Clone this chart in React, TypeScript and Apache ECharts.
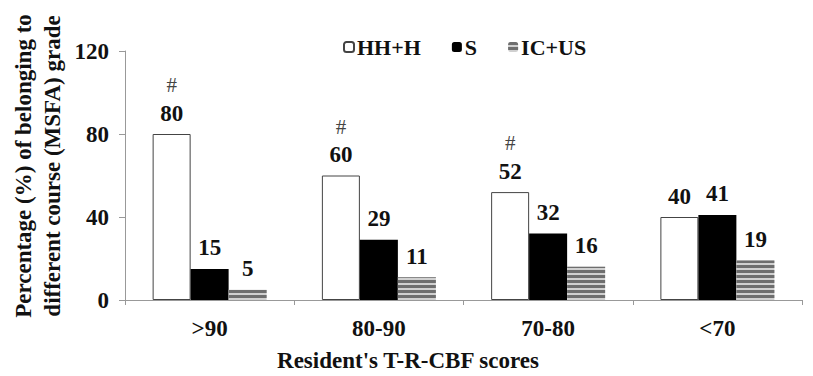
import React, { useEffect, useRef } from "react";
import * as echarts from "echarts";

const categories = [">90", "80-90", "70-80", "<70"];
const seriesNames = ["HH+H", "S", "IC+US"];
const hhH = [80, 60, 52, 40];
const sVals = [15, 29, 32, 41];
const icUs = [5, 11, 16, 19];
const significance = ["#", "#", "#", ""];
const yTicks = { min: 0, max: 120, interval: 40 };
const yTitle = "Percentage (%) of belonging to\ndifferent course (MSFA) grade";
const xTitle = "Resident's T-R-CBF scores";

const FONT = "'Liberation Serif', 'Times New Roman', serif";
const FS = 23;

export default function App() {
  const ref = useRef<HTMLDivElement>(null);
  useEffect(() => {
    if (!ref.current) return;
    const chart = echarts.init(ref.current, undefined, { renderer: "svg" });
    const valueLabel = {
      show: true,
      position: "top",
      distance: 9,
      fontFamily: FONT,
      fontWeight: "bold",
      fontSize: FS,
      lineHeight: 24,
      color: "#111",
    };
    chart.setOption({
      animation: false,
      backgroundColor: "#fff",
      textStyle: { fontFamily: FONT },
      legend: {
        left: 338,
        top: 31,
        itemWidth: 10,
        itemHeight: 10,
        itemGap: 31,
        textStyle: {
          fontFamily: FONT,
          fontWeight: "bold",
          fontSize: 22,
          color: "#111",
          padding: [0, 0, 0, -2],
        },
        data: seriesNames,
      },
      grid: { left: 125, right: 11, top: 51, bottom: 76, containLabel: false },
      xAxis: {
        type: "category",
        data: categories,
        axisLine: { lineStyle: { color: "#999", width: 1 } },
        axisTick: { show: true, length: 5, lineStyle: { color: "#999" } },
        axisLabel: { margin: 17, fontFamily: FONT, fontWeight: "bold", fontSize: FS, color: "#111" },
      },
      yAxis: {
        type: "value",
        min: yTicks.min,
        max: yTicks.max,
        interval: yTicks.interval,
        axisLine: { show: true, lineStyle: { color: "#999", width: 1 } },
        axisTick: { show: true, length: 6, lineStyle: { color: "#999" } },
        splitLine: { show: false },
        axisLabel: { margin: 16, fontFamily: FONT, fontWeight: "bold", fontSize: FS, color: "#111" },
      },
      graphic: [
        {
          type: "text",
          x: 408,
          y: 360,
          style: {
            text: xTitle,
            textAlign: "center",
            textVerticalAlign: "middle",
            fontFamily: FONT,
            fontWeight: "bold",
            fontSize: FS,
            fill: "#111",
          },
        },
        {
          type: "text",
          x: 38,
          y: 166,
          rotation: Math.PI / 2,
          style: {
            text: yTitle,
            textAlign: "center",
            textVerticalAlign: "middle",
            fontFamily: FONT,
            fontWeight: "bold",
            fontSize: FS,
            lineHeight: 29,
            fill: "#111",
          },
        },
      ],
      series: [
        {
          name: seriesNames[0],
          type: "bar",
          barWidth: 38,
          barGap: "0%",
          data: hhH,
          itemStyle: { color: "#fff", borderColor: "#444", borderWidth: 1 },
          label: {
            ...valueLabel,
            formatter: (p: any) => {
              const m = significance[p.dataIndex];
              return m ? `{h|${m}}\n{v|${p.value}}` : `{v|${p.value}}`;
            },
            rich: {
              h: { fontFamily: FONT, fontSize: 21, fontWeight: "normal", color: "#444", lineHeight: 32 },
              v: { fontFamily: FONT, fontSize: FS, fontWeight: "bold", color: "#111", lineHeight: 24 },
            },
          },
        },
        {
          name: seriesNames[1],
          type: "bar",
          barWidth: 38,
          barGap: "0%",
          data: sVals,
          itemStyle: { color: "#000" },
          label: valueLabel,
        },
        {
          name: seriesNames[2],
          type: "bar",
          barWidth: 38,
          barGap: "0%",
          data: icUs,
          itemStyle: {
            color: "#d0d0d0",
            decal: {
              symbol: "rect",
              symbolSize: 1,
              dashArrayX: [1, 0],
              dashArrayY: [3, 2],
              rotation: 0,
              color: "#6e6e6e",
            },
          },
          label: valueLabel,
        },
      ],
    });
    return () => chart.dispose();
  }, []);
  return <div ref={ref} style={{ width: 813, height: 376, position: "absolute", left: 0, top: 0 }} />;
}
